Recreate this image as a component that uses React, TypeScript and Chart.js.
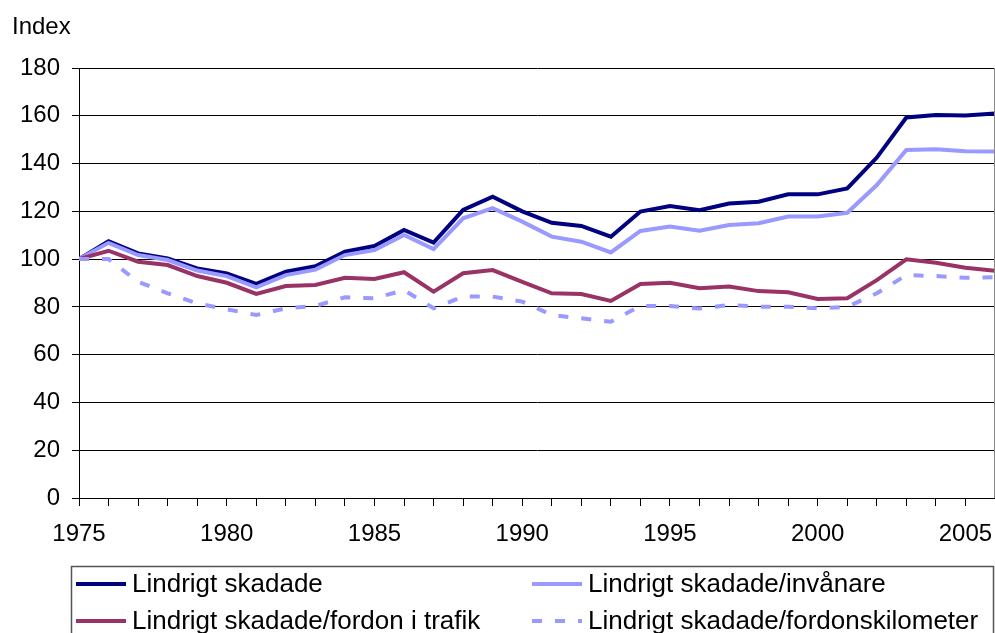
import React, { useEffect, useRef } from 'react';
import { Chart, registerables } from 'chart.js';

Chart.register(...registerables);

const years = [
  1975, 1976, 1977, 1978, 1979, 1980, 1981, 1982, 1983, 1984, 1985, 1986, 1987, 1988, 1989, 1990,
  1991, 1992, 1993, 1994, 1995, 1996, 1997, 1998, 1999, 2000, 2001, 2002, 2003, 2004, 2005, 2006,
];

const skadade = [
  100, 107.5, 102.4, 100.3, 96.1, 94, 89.6, 94.7, 97, 103.1, 105.5, 112.2, 106.9, 120.6, 126.1, 120,
  115.2, 113.9, 109.4, 119.9, 122.2, 120.5, 123.3, 124, 127.1, 127.1, 129.6, 142.5, 159.3, 160.3, 160.1, 161,
];

const perInvanare = [
  100, 106.8, 101.7, 99.6, 95.2, 92.9, 88.2, 93.3, 95.6, 101.7, 103.8, 110.1, 104.2, 117.1, 121.3, 115.7,
  109.4, 107.3, 102.8, 111.8, 113.6, 111.9, 114.3, 115, 117.8, 117.8, 119.4, 131, 145.7, 146, 145.2, 145,
];

const perFordon = [
  100, 103.5, 98.9, 97.5, 92.9, 90.1, 85.4, 88.7, 89.2, 92.2, 91.7, 94.5, 86.4, 94.1, 95.4, 90.5,
  85.7, 85.4, 82.5, 89.6, 90.1, 87.8, 88.5, 86.6, 86.1, 83.3, 83.6, 91.2, 99.9, 98.5, 96.4, 95.1,
];

const perFordonskm = [
  100, 100, 90.5, 85.7, 81.5, 79, 76.6, 79.4, 80.4, 84, 83.6, 87, 79.4, 84.3, 84.3, 82.2,
  76.6, 75.2, 73.8, 80.4, 80.4, 79.3, 80.8, 80.1, 80.1, 79.4, 80, 85.7, 93.3, 92.9, 92.2, 92.4,
];

const seriesLabels = [
  'Lindrigt skadade',
  'Lindrigt skadade/invånare',
  'Lindrigt skadade/fordon i trafik',
  'Lindrigt skadade/fordonskilometer',
];

const yTicks = [0, 20, 40, 60, 80, 100, 120, 140, 160, 180];
const yAxisTitle = 'Index';

const FONT = '"Liberation Sans", Arial, Helvetica, sans-serif';

const decor = {
  id: 'decor',
  afterDraw(chart: any) {
    const ctx = chart.ctx;
    const area = chart.chartArea;
    ctx.save();
    ctx.fillStyle = '#000';
    ctx.font = `24px ${FONT}`;
    ctx.textAlign = 'left';
    ctx.textBaseline = 'alphabetic';
    ctx.fillText(yAxisTitle, 12, 34);

    ctx.strokeStyle = '#888';
    ctx.lineWidth = 1;
    ctx.beginPath();
    ctx.moveTo(area.right - 0.5, area.top);
    ctx.lineTo(area.right - 0.5, area.bottom);
    ctx.stroke();

    ctx.strokeStyle = '#555';
    ctx.lineWidth = 1.5;
    ctx.strokeRect(71.5, 566.5, 922, 80);

    const cols = [76, 532];
    const rows = [584, 621];
    const ds = chart.data.datasets;
    ds.forEach((d: any, i: number) => {
      const x = cols[i % 2];
      const y = rows[Math.floor(i / 2)];
      ctx.save();
      ctx.strokeStyle = d.borderColor;
      ctx.lineWidth = 4;
      ctx.lineCap = 'butt';
      ctx.setLineDash(d.borderDash || []);
      ctx.beginPath();
      ctx.moveTo(x, y);
      ctx.lineTo(x + 50, y);
      ctx.stroke();
      ctx.restore();
      ctx.fillStyle = '#000';
      ctx.font = `26px ${FONT}`;
      ctx.textAlign = 'left';
      ctx.textBaseline = 'middle';
      ctx.fillText(d.label, x + 56, y + 1);
    });
    ctx.restore();
  },
};

export default function App() {
  const ref = useRef<HTMLCanvasElement>(null);

  useEffect(() => {
    const toPts = (arr: number[]) => arr.map((v, i) => ({ x: years[i], y: v }));
    const chart = new Chart(ref.current as HTMLCanvasElement, {
      type: 'line',
      data: {
        datasets: [
          { label: seriesLabels[0], data: toPts(skadade), borderColor: '#000080', borderWidth: 4, pointRadius: 0, order: 4 },
          { label: seriesLabels[1], data: toPts(perInvanare), borderColor: '#9999FF', borderWidth: 4, pointRadius: 0, order: 3 },
          { label: seriesLabels[2], data: toPts(perFordon), borderColor: '#993366', borderWidth: 4, pointRadius: 0, order: 2 },
          {
            label: seriesLabels[3],
            data: toPts(perFordonskm),
            borderColor: '#9999FF',
            borderWidth: 4,
            borderDash: [10, 13],
            pointRadius: 0,
            order: 1,
          },
        ],
      },
      options: {
        responsive: false,
        animation: false,
        devicePixelRatio: 1,
        layout: { padding: { top: 68, left: 0, right: 0, bottom: 0 } },
        plugins: {
          legend: { display: false },
          tooltip: { enabled: false },
          title: { display: false },
        },
        scales: {
          x: {
            type: 'linear',
            min: years[0],
            max: years[years.length - 1],
            afterFit: (s: any) => {
              s.height = 135;
              s.paddingLeft = 0;
              s.paddingRight = 0;
            },
            afterBuildTicks: (s: any) => {
              s.ticks = years.map((y) => ({ value: y }));
            },
            ticks: {
              autoSkip: false,
              maxRotation: 0,
              minRotation: 0,
              padding: 14,
              color: '#000',
              font: { family: FONT, size: 24 },
              callback: (v: any) => (Number(v) % 5 === 0 ? String(v) : ''),
            },
            grid: { drawOnChartArea: false, drawTicks: true, tickLength: 8, color: '#000', lineWidth: 1 },
            border: { display: true, color: '#000', width: 1 },
          },
          y: {
            type: 'linear',
            min: yTicks[0],
            max: yTicks[yTicks.length - 1],
            afterFit: (s: any) => {
              s.width = 79;
            },
            afterBuildTicks: (s: any) => {
              s.ticks = yTicks.map((v) => ({ value: v }));
            },
            ticks: {
              padding: 12,
              color: '#000',
              font: { family: FONT, size: 24 },
              callback: (v: any) => String(v),
            },
            grid: { drawTicks: true, tickLength: 7, color: '#000', lineWidth: 1 },
            border: { display: true, color: '#000', width: 1 },
          },
        },
      },
      plugins: [decor],
    } as any);
    return () => chart.destroy();
  }, []);

  return (
    <div style={{ position: 'fixed', left: 0, top: 0, width: 995, height: 633, background: '#fff' }}>
      <canvas ref={ref} width={995} height={633} style={{ display: 'block', width: 995, height: 633 }} />
    </div>
  );
}
